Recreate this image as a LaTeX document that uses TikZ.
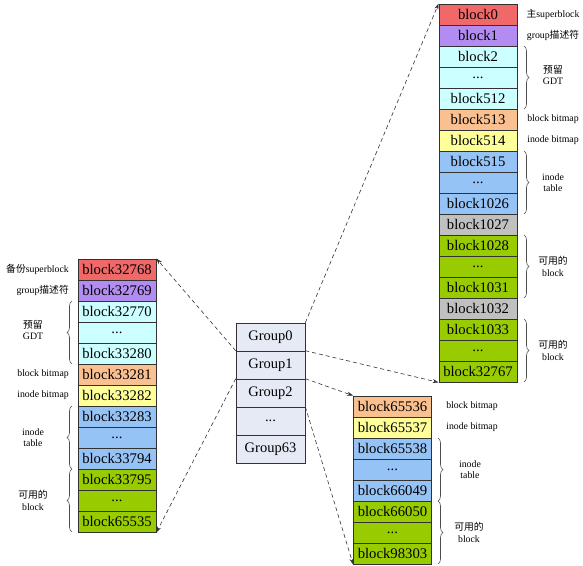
\documentclass[tikz,border=0pt]{standalone}
\usepackage{fontspec}
\setmainfont{Liberation Serif}
\newfontfamily\cjk{Noto Sans CJK SC}
\usetikzlibrary{arrows.meta,decorations.pathreplacing}
\definecolor{cred}{RGB}{240,104,104}
\definecolor{cpurple}{RGB}{178,140,240}
\definecolor{ccyan}{RGB}{204,255,255}
\definecolor{cpeach}{RGB}{250,192,143}
\definecolor{cyellow}{RGB}{255,255,153}
\definecolor{cblue}{RGB}{150,195,245}
\definecolor{cgray}{RGB}{192,192,192}
\definecolor{cgreen}{RGB}{153,204,0}
\definecolor{cgroup}{RGB}{230,234,245}
\definecolor{cline}{RGB}{50,50,50}
\tikzset{
  blk/.style={draw=cline, line width=0.8pt, minimum width=78pt, minimum height=21pt, inner sep=0pt,
    font=\fontsize{14.7}{14.7}\selectfont},
  grp/.style={draw=cline, line width=0.6pt, fill=cgroup, minimum width=69pt, minimum height=28pt, inner sep=0pt,
    font=\fontsize{14.5}{14.5}\selectfont},
  lbl/.style={font=\fontsize{9.8}{11.5}\selectfont, inner sep=0pt, align=center},
  arr/.style={dashed, dash pattern=on 4pt off 3pt, line width=0.6pt, draw=cline, -{Stealth[length=6pt,width=4pt]}},
  brc/.style={decorate, decoration={brace, amplitude=5pt}, line width=0.6pt, draw=black!70},
}
\begin{document}
\begin{tikzpicture}[x=1pt,y=-1pt]
\useasboundingbox (0,0) rectangle (583,565);
% right column
\node[blk, fill=cred]    (r0)  at (478, 14.5) {block0};
\node[blk, fill=cpurple] (r1)  at (478, 35.5) {block1};
\node[blk, fill=ccyan]   (r2)  at (478, 56.5) {block2};
\node[blk, fill=ccyan]   (r3)  at (478, 77.5) {...};
\node[blk, fill=ccyan]   (r4)  at (478, 98.5) {block512};
\node[blk, fill=cpeach]  (r5)  at (478,119.5) {block513};
\node[blk, fill=cyellow] (r6)  at (478,140.5) {block514};
\node[blk, fill=cblue]   (r7)  at (478,161.5) {block515};
\node[blk, fill=cblue]   (r8)  at (478,182.5) {...};
\node[blk, fill=cblue]   (r9)  at (478,203.5) {block1026};
\node[blk, fill=cgray]   (r10) at (478,224.5) {block1027};
\node[blk, fill=cgreen]  (r11) at (478,245.5) {block1028};
\node[blk, fill=cgreen]  (r12) at (478,266.5) {...};
\node[blk, fill=cgreen]  (r13) at (478,287.5) {block1031};
\node[blk, fill=cgray]   (r14) at (478,308.5) {block1032};
\node[blk, fill=cgreen]  (r15) at (478,329.5) {block1033};
\node[blk, fill=cgreen]  (r16) at (478,350.5) {...};
\node[blk, fill=cgreen]  (r17) at (478,371.5) {block32767};
% right labels
\node[lbl] (rl0) at (553, 14.5) {{\cjk 主}superblock};
\node[lbl] (rl1) at (553, 35.5) {group{\cjk 描述符}};
\node[lbl] (rl2) at (553, 75) {{\cjk 预留}\\GDT};
\node[lbl] (rl3) at (553,119.5) {block bitmap};
\node[lbl] (rl4) at (553,140.5) {inode bitmap};
\node[lbl] (rl5) at (553,182.5) {inode\\table};
\node[lbl] (rl6) at (553,266.5) {{\cjk 可用的}\\block};
\node[lbl] (rl7) at (553,350.5) {{\cjk 可用的}\\block};
\draw[brc] (524,46) -- (524,109);
\draw[brc] (524,151) -- (524,214);
\draw[brc] (524,235) -- (524,298);
\draw[brc] (524,319) -- (524,382);
% left column
\node[blk, fill=cred]    (l0)  at (117,269.5) {block32768};
\node[blk, fill=cpurple] (l1)  at (117,290.5) {block32769};
\node[blk, fill=ccyan]   (l2)  at (117,311.5) {block32770};
\node[blk, fill=ccyan]   (l3)  at (117,332.5) {...};
\node[blk, fill=ccyan]   (l4)  at (117,353.5) {block33280};
\node[blk, fill=cpeach]  (l5)  at (117,374.5) {block33281};
\node[blk, fill=cyellow] (l6)  at (117,395.5) {block33282};
\node[blk, fill=cblue]   (l7)  at (117,416.5) {block33283};
\node[blk, fill=cblue]   (l8)  at (117,437.5) {...};
\node[blk, fill=cblue]   (l9)  at (117,458.5) {block33794};
\node[blk, fill=cgreen]  (l10) at (117,479.5) {block33795};
\node[blk, fill=cgreen]  (l11) at (117,500.5) {...};
\node[blk, fill=cgreen]  (l12) at (117,521.5) {block65535};
% left labels
\node[lbl, anchor=east] (ll0) at (69,269.5) {{\cjk 备份}superblock};
\node[lbl, anchor=east] (ll1) at (69,290.5) {group{\cjk 描述符}};
\node[lbl] (ll2) at (33,330) {{\cjk 预留}\\GDT};
\node[lbl, anchor=east] (ll3) at (69,374.5) {block bitmap};
\node[lbl, anchor=east] (ll4) at (69,395.5) {inode bitmap};
\node[lbl] (ll5) at (33,437.5) {inode\\table};
\node[lbl] (ll6) at (33,500.5) {{\cjk 可用的}\\block};
\draw[brc] (72,364) -- (72,301);
\draw[brc] (72,469) -- (72,406);
\draw[brc] (72,532) -- (72,469);
% bottom right column
\node[blk, fill=cpeach]  (b0) at (392.5,406.5) {block65536};
\node[blk, fill=cyellow] (b1) at (392.5,427.5) {block65537};
\node[blk, fill=cblue]   (b2) at (392.5,448.5) {block65538};
\node[blk, fill=cblue]   (b3) at (392.5,469.5) {...};
\node[blk, fill=cblue]   (b4) at (392.5,490.5) {block66049};
\node[blk, fill=cgreen]  (b5) at (392.5,511.5) {block66050};
\node[blk, fill=cgreen]  (b6) at (392.5,532.5) {...};
\node[blk, fill=cgreen]  (b7) at (392.5,553.5) {block98303};
\node[lbl] (bl0) at (472,406.5) {block bitmap};
\node[lbl] (bl1) at (472,427.5) {inode bitmap};
\node[lbl] (bl2) at (470,469.5) {inode\\table};
\node[lbl] (bl3) at (469,532.5) {{\cjk 可用的}\\block};
\draw[brc] (438,438) -- (438,501);
\draw[brc] (438,501) -- (438,564);
% groups
\node[grp] (g0) at (270.5,337) {Group0};
\node[grp] (g1) at (270.5,365) {Group1};
\node[grp] (g2) at (270.5,393) {Group2};
\node[grp] (g3) at (270.5,421) {...};
\node[grp] (g4) at (270.5,449) {Group63};
% arrows
\draw[arr] (g0.north east) -- (r0.north west);
\draw[arr] (g1.north east) -- (r17.south west);
\draw[arr] (g1.north west) -- (l0.north east);
\draw[arr] (g2.north west) -- (l12.south east);
\draw[arr] (g2.north east) -- (b0.north west);
\draw[arr] (g3.north east) -- (b7.south west);
\end{tikzpicture}
\end{document}
